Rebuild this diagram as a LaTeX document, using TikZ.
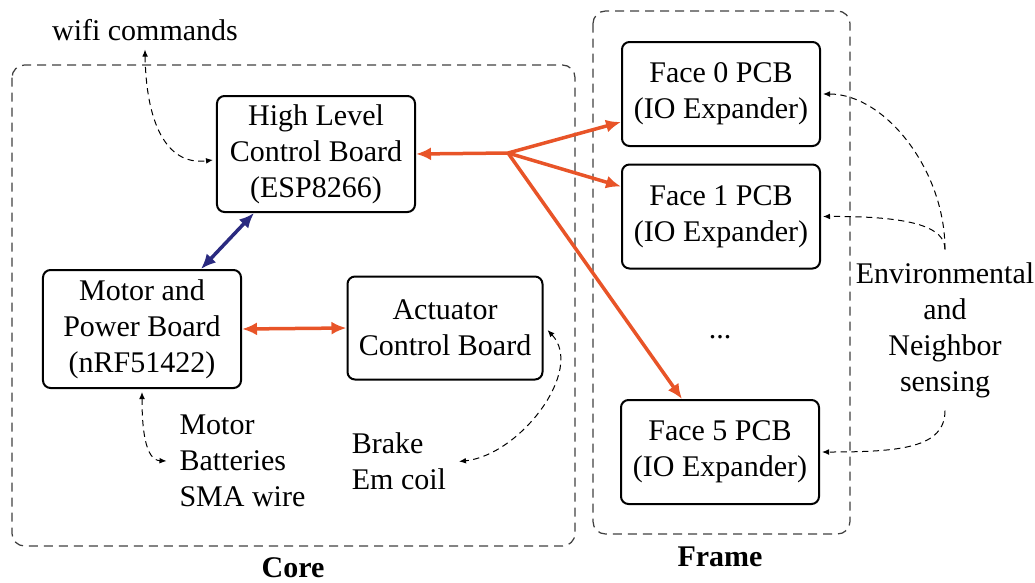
\documentclass[tikz,border=0pt]{standalone}
\usepackage{fontspec}
\setmainfont{Liberation Serif}
\usetikzlibrary{calc}
\usetikzlibrary{arrows.meta}
\definecolor{busorange}{RGB}{232,84,40}
\definecolor{busblue}{RGB}{42,42,128}
\tikzset{bigtip/.tip={Latex[length=6pt,width=5.2pt]},
  smalltip/.tip={Latex[length=2.8pt,width=2.3pt]}}

\begin{document}
\begin{tikzpicture}[x=0.4pt,y=-0.4pt,font=\fontsize{12}{14.4}\selectfont,
  board/.style={draw,rounded corners=3pt,line width=0.8pt,align=center,inner sep=0pt},
  face/.style={board,minimum width=79.2pt,minimum height=41.6pt},
  group/.style={draw=black!75,rounded corners=5pt,line width=0.5pt,dash pattern=on 3.6pt off 2.4pt},
  bus/.style={busorange,line width=1.4pt},
  sense/.style={line width=0.4pt,dash pattern=on 2.5pt off 1.8pt},
  note/.style={inner sep=5pt,align=left}]
\useasboundingbox (0,0) rectangle (1035,582);

% groups
\draw[group] (12,65) rectangle (575,546);
\draw[group] (593,11) rectangle (850,534);
\node[font=\fontsize{12}{14.4}\bfseries] (core) at (293,568) {Core};
\node[font=\fontsize{12}{14.4}\bfseries] (frame) at (720,557) {Frame};

% boards
\node[board,minimum width=79.2pt,minimum height=46.4pt] (hl) at (316,154) {High Level\\Control Board\\(ESP8266)};
\node[board,minimum width=79.2pt,minimum height=47.2pt] (mp) at (142,329) {Motor and\\Power Board\\(nRF51422)};
\node[board,minimum width=78pt,minimum height=41.2pt] (ac) at (445,328) {Actuator\\Control Board};
\node[face] (f0) at (721,94) {Face 0 PCB\\(IO Expander)};
\node[face] (f1) at (721,216.5) {Face 1 PCB\\(IO Expander)};
\node[anchor=base] (dots) at (720,338) {...};
\node[face] (f5) at (720,452) {Face 5 PCB\\(IO Expander)};

% outside things
\node (wifi) at (145,30) {wifi commands};
\node[note,anchor=west] (mbs) at (166.5,461) {Motor\\Batteries\\SMA wire};
\node[note,anchor=east] (brk) at (459,461.5) {Brake\\Em coil};
\node[note,align=center] (env) at (945,330) {Environmental\\and\\Neighbor\\sensing};

% buses
\coordinate (j) at (508,153);
\draw[bus,-{bigtip}] (j) -- (hl.east);
\draw[bus,-{bigtip}] (j) -- ($(f0.west)+(0,28)$);
\draw[bus,-{bigtip}] (j) -- ($(f1.west)+(0,-30)$);
\draw[bus,-{bigtip}] (j) -- ($(f5.north)+(-38,0)$);
\draw[bus,{bigtip}-{bigtip}] (mp.east) -- (ac.west);
\draw[busblue,line width=1.4pt,{bigtip}-{bigtip}] ($(hl.south west)+(38,0)$) -- ($(mp.north west)+(159,0)$);

% sensing
\draw[sense,{smalltip}-{smalltip}] (wifi.south) .. controls (146,120) and (165,166) .. ($(hl.west)+(-3,6)$);
\draw[sense,{smalltip}-{smalltip}] ($(mp.south)+(0,3)$) .. controls (142,428) and (145,460) .. (mbs.west);
\draw[sense,{smalltip}-{smalltip}] ($(ac.east)+(4,2)$) .. controls (585,370) and (520,455) .. (brk.east);
\draw[sense,-{smalltip}] (env.north) .. controls (945,170) and (885,94) .. ($(f0.east)+(2,0)$);
\draw[sense,-{smalltip}] (env.north) .. controls (945,228) and (915,216) .. ($(f1.east)+(2,0)$);
\draw[sense,-{smalltip}] (env.south) .. controls (945,448) and (900,452) .. ($(f5.east)+(2,0)$);
\end{tikzpicture}
\end{document}
